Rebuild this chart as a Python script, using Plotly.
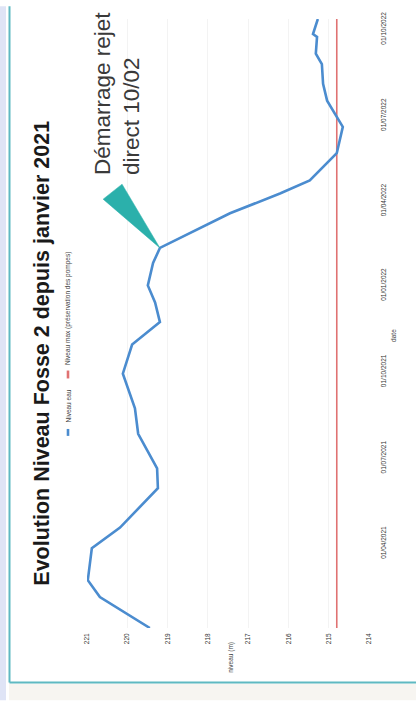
import plotly.graph_objects as go
from datetime import datetime, timedelta

# Water level readings (date, level in metres)
dates = [
    "2021-01-01", "2021-02-03", "2021-02-21", "2021-03-27", "2021-04-18",
    "2021-05-30", "2021-06-20", "2021-07-27", "2021-08-23", "2021-09-29",
    "2021-10-30", "2021-11-23", "2021-12-14", "2022-01-01", "2022-01-25",
    "2022-02-10", "2022-03-19", "2022-03-27", "2022-04-09", "2022-04-23",
    "2022-05-22", "2022-06-19", "2022-06-30", "2022-07-17", "2022-08-04",
    "2022-08-25", "2022-09-05", "2022-09-23", "2022-09-26", "2022-10-03",
    "2022-10-12",
]
niveau_eau = [
    219.44, 220.68, 220.98, 220.88, 220.18,
    219.24, 219.26, 219.73, 219.81, 220.11,
    219.88, 219.19, 219.31, 219.49, 219.36,
    219.19, 217.45, 216.96, 216.21, 215.47,
    214.80, 214.65, 214.80, 215.04, 215.14,
    215.17, 215.32, 215.29, 215.39, 215.34,
    215.27,
]
niveau_max = 214.8

niveau_ticks = [221, 220, 219, 218, 217, 216, 215, 214]
date_ticks = ["2021-04-01", "2021-07-01", "2021-10-01", "2022-01-01",
              "2022-04-01", "2022-07-01", "2022-10-01"]
date_tick_labels = ["01/04/2021", "01/07/2021", "01/10/2021", "01/01/2022",
                    "01/04/2022", "01/07/2022", "01/10/2022"]

title_text = "Evolution Niveau Fosse 2 depuis janvier 2021"
series_names = ["Niveau eau", "Niveau max (préservation des pompes)"]
event_date = "2022-02-10"
event_text = "Démarrage rejet<br>direct 10/02"

# Page geometry (pixels); the chart is laid out rotated a quarter turn
W, H = 416, 701
L, R, T, B = 87, 369, 13, 628


def fx(px):
    return (px - L) / (R - L)


def fy(py):
    return (B - py) / (B - T)


BLUE = "#4b8ccf"
RED = "#e07272"
TEAL = "#2bb0ab"
FONT = "Liberation Sans, Arial, sans-serif"

fig = go.Figure()

# Maximum level line
fig.add_trace(go.Scatter(
    x=[niveau_max, niveau_max], y=[dates[0], dates[-1]],
    mode="lines", line=dict(color=RED, width=1.6),
    showlegend=False, hoverinfo="skip",
))

# Water level line
fig.add_trace(go.Scatter(
    x=niveau_eau, y=dates, mode="lines",
    line=dict(color=BLUE, width=2.6),
    showlegend=False,
))

# Callout wedge pointing at the event reading
ev_i = dates.index(event_date)
ev_val = niveau_eau[ev_i]
ev_dt = datetime.strptime(event_date, "%Y-%m-%d")
wedge_x = [ev_val, ev_val + 1.41, ev_val + 0.94, ev_val]
wedge_y = [ev_dt, ev_dt + timedelta(days=52), ev_dt + timedelta(days=68), ev_dt]
fig.add_trace(go.Scatter(
    x=wedge_x, y=wedge_y, mode="lines", fill="toself",
    fillcolor=TEAL, line=dict(color=TEAL, width=0.5),
    showlegend=False, hoverinfo="skip",
))

annotations = [
    # chart title
    dict(text="<b>" + title_text + "</b>", x=fx(42), y=fy(351),
         textangle=-90, font=dict(size=21.5, color="#1a1a1a", family=FONT)),
    # event label
    dict(text=event_text, x=fx(117), y=fy(173), yanchor="bottom",
         align="left", textangle=-90,
         font=dict(size=22.5, color="#3a3a3a", family=FONT)),
    # legend labels
    dict(text=series_names[0], x=fx(68), y=fy(423), yanchor="bottom",
         textangle=-90, font=dict(size=6.5, color="#444", family=FONT)),
    dict(text=series_names[1], x=fx(68), y=fy(365), yanchor="bottom",
         textangle=-90, font=dict(size=6.5, color="#444", family=FONT)),
    # axis titles
    dict(text="niveau (m)", x=fx(231), y=fy(658), textangle=-90,
         font=dict(size=6.5, color="#444", family=FONT)),
    dict(text="date", x=fx(394), y=fy(333), textangle=-90,
         font=dict(size=6.5, color="#444", family=FONT)),
]
for a in annotations:
    a.setdefault("xref", "paper")
    a.setdefault("yref", "paper")
    a.setdefault("showarrow", False)
    a.setdefault("xanchor", "center")
    a.setdefault("yanchor", "middle")

shapes = [
    # legend keys
    dict(type="line", x0=fx(68), x1=fx(68), y0=fy(434), y1=fy(427),
         line=dict(color=BLUE, width=2.6)),
    dict(type="line", x0=fx(68), x1=fx(68), y0=fy(376), y1=fy(368),
         line=dict(color=RED, width=2.6)),
    # page edge strip and frame
    dict(type="rect", x0=fx(0), x1=fx(6), y0=fy(H), y1=fy(0),
         fillcolor="#dfe4f6", line=dict(width=0)),
    dict(type="rect", x0=fx(9), x1=fx(W), y0=fy(H), y1=fy(684),
         fillcolor="#f7f5f1", line=dict(width=0)),
    dict(type="line", x0=fx(9.5), x1=fx(9.5), y0=fy(683), y1=fy(0),
         line=dict(color="#5fb9c2", width=2)),
    dict(type="line", x0=fx(9.5), x1=fx(W), y0=fy(683), y1=fy(683),
         line=dict(color="#5fb9c2", width=2)),
]
for s in shapes:
    s["xref"] = "paper"
    s["yref"] = "paper"

fig.update_layout(
    width=W, height=H,
    margin=dict(l=L, r=W - R, t=T, b=H - B, pad=0),
    paper_bgcolor="white", plot_bgcolor="white",
    showlegend=False,
    font=dict(family=FONT, color="#333"),
    xaxis=dict(
        range=[221, 214], tickvals=niveau_ticks, tickangle=-90,
        tickfont=dict(size=6.5, color="#333"),
        showgrid=True, gridcolor="#f3f3f3", zeroline=False,
        showline=False, ticks="", ticklabelstandoff=3,
    ),
    yaxis=dict(
        type="date", range=[dates[0], dates[-1]], side="right",
        tickvals=date_ticks, ticktext=date_tick_labels, tickangle=-90,
        tickfont=dict(size=6.5, color="#333"),
        showgrid=False, zeroline=False, showline=False, ticks="",
        ticklabelstandoff=9,
    ),
    annotations=annotations,
    shapes=shapes,
)

fig.write_html("out.html")
